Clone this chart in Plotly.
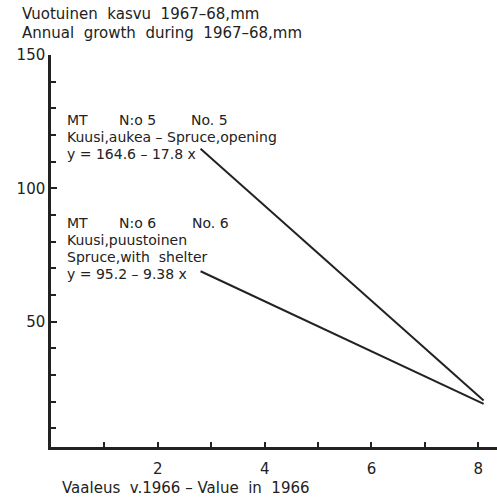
import plotly.graph_objects as go

# Data
x_no5 = [2.8, 8.1]
y_no5 = [114.8, 20.4]
x_no6 = [2.8, 8.1]
y_no6 = [68.9, 19.2]

x_major = [2, 4, 6, 8]
y_major = [50, 100, 150]

title_lines = ["Vuotuinen  kasvu  1967–68,mm", "Annual  growth  during  1967–68,mm"]
x_title = "Vaaleus  v.1966 – Value  in  1966"

FONT = "DejaVu Sans"
INK = "#222222"
FS = 15
FB = 14

fig = go.Figure()
fig.add_trace(go.Scatter(x=x_no5, y=y_no5, mode="lines",
                         line=dict(color=INK, width=2), showlegend=False, hoverinfo="skip"))
fig.add_trace(go.Scatter(x=x_no6, y=y_no6, mode="lines",
                         line=dict(color=INK, width=2), showlegend=False, hoverinfo="skip"))

ann = []
def txt(x, y, s, xref="x", yref="y", size=FB):
    ann.append(dict(x=x, y=y, xref=xref, yref=yref, text=s, showarrow=False,
                    xanchor="left", yanchor="middle", borderpad=0,
                    font=dict(family=FONT, size=size, color=INK)))

def py(p):
    # pixel row of the reference -> data value on the y axis
    return 150 - (p - 55) / 2.667

# Block No. 5
txt(0.28, py(120), "MT")
txt(1.25, py(120), "N:o 5")
txt(2.60, py(120), "No. 5")
txt(0.28, py(137), "Kuusi,aukea – Spruce,opening")
txt(0.28, py(154), "y = 164.6 – 17.8 x")
# Block No. 6
txt(0.28, py(223), "MT")
txt(1.25, py(223), "N:o 6")
txt(2.62, py(223), "No. 6")
txt(0.28, py(240), "Kuusi,puustoinen")
txt(0.28, py(257), "Spruce,with  shelter")
txt(0.28, py(274), "y = 95.2 – 9.38 x")

# Titles (paper coords)
txt(-0.067, (447 - 14) / 392, title_lines[0], "paper", "paper", FS)
txt(-0.067, (447 - 33) / 392, title_lines[1], "paper", "paper", FS)
txt(0.023, (447 - 488) / 392, x_title, "paper", "paper", FS)

fig.update_layout(
    width=497, height=498,
    margin=dict(l=51, r=0, t=55, b=51),
    paper_bgcolor="white", plot_bgcolor="white",
    annotations=ann,
    xaxis=dict(range=[0, 8.35], tickvals=x_major, ticks="inside", ticklen=5,
               tickwidth=2, tickcolor=INK, showgrid=False, zeroline=False,
               showline=True, linecolor=INK, linewidth=2.5,
               tickfont=dict(family=FONT, size=FS, color=INK),
               ticklabelstandoff=6,
               minor=dict(dtick=1, tick0=0, ticks="inside", ticklen=5, tickwidth=2, tickcolor=INK)),
    yaxis=dict(range=[3, 150], tickvals=y_major, ticks="inside", ticklen=6,
               tickwidth=2, tickcolor=INK, showgrid=False, zeroline=False,
               showline=True, linecolor=INK, linewidth=2.5,
               tickfont=dict(family=FONT, size=FS, color=INK),
               minor=dict(dtick=10, tick0=0, ticks="inside", ticklen=5, tickwidth=2, tickcolor=INK)),
)

fig.write_html("out.html")
